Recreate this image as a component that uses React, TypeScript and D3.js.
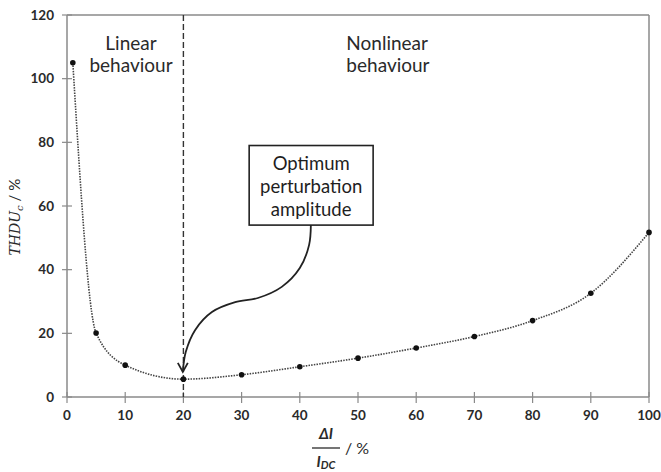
import React from "react";
import * as d3 from "d3";

// perturbation amplitude (% of I_DC) and THD of the voltage response (%)
const amplitudes = [1, 5, 10, 20, 30, 40, 50, 60, 70, 80, 90, 100];
const thdValues = [105, 20.1, 10, 5.6, 7, 9.5, 12.2, 15.4, 19, 24, 32.6, 51.7];
const xTicks = [0, 10, 20, 30, 40, 50, 60, 70, 80, 90, 100];
const yTicks = [0, 20, 40, 60, 80, 100, 120];
const optimumX = 20;
const boxLines = ["Optimum", "perturbation", "amplitude"];
// hand-drawn annotation arrow, in data units (box bottom -> optimum point)
const arrowX = [41.9, 41.6, 40, 36.9, 32.8, 28.9, 24.9, 22, 20.4, 19.9];
const arrowY = [54, 47.8, 40.5, 34.6, 31.1, 29.8, 26.7, 21, 14.1, 7.9];

const W = 661;
const H = 472;
const margin = { top: 15, right: 12, bottom: 75, left: 67 };

const font = "Lato, 'Open Sans', sans-serif";
const axisColor = "#8a8a8a";
const textColor = "#2a2a2a";

export default function App() {
  const x = d3.scaleLinear().domain([0, 100]).range([margin.left, W - margin.right]);
  const y = d3.scaleLinear().domain([0, 120]).range([H - margin.bottom, margin.top]);

  const pts = amplitudes.map((a, i) => [a, thdValues[i]] as [number, number]);
  const line = d3
    .line<[number, number]>()
    .x((d) => x(d[0]))
    .y((d) => y(d[1]))
    .curve(d3.curveMonotoneX);

  const boxX0 = x(31.3);
  const boxX1 = x(52.6);
  const boxY0 = y(79);
  const boxY1 = y(54);
  const boxCx = (boxX0 + boxX1) / 2;

  const arrowPts = arrowX.map((v, i) => [v, arrowY[i]] as [number, number]);
  const arrow = d3
    .line<[number, number]>()
    .x((d) => x(d[0]))
    .y((d) => y(d[1]))
    .curve(d3.curveCatmullRom)(arrowPts);
  const tip: [number, number] = [x(arrowX[arrowX.length - 1]), y(arrowY[arrowY.length - 1])];

  const bottom = y(0);
  const right = x(100);

  return (
    <svg width={W} height={H} style={{ position: "absolute", left: 0, top: 0, background: "#fff" }}>
      {/* frame */}
      <line x1={margin.left} x2={right} y1={y(120)} y2={y(120)} stroke={axisColor} strokeWidth={1.5} />
      <line x1={right} x2={right} y1={y(120)} y2={bottom} stroke={axisColor} strokeWidth={1.5} />
      <line x1={margin.left} x2={margin.left} y1={y(120)} y2={bottom} stroke={axisColor} strokeWidth={1.5} />
      <line x1={margin.left} x2={right} y1={bottom} y2={bottom} stroke={axisColor} strokeWidth={1.5} />

      {yTicks.map((t) => (
        <g key={"y" + t}>
          <line x1={margin.left - 5} x2={margin.left + 5} y1={y(t)} y2={y(t)} stroke={axisColor} strokeWidth={1.2} />
          <text x={margin.left - 13} y={y(t)} dy="0.35em" textAnchor="end" fontFamily={font} fontWeight={700} fontSize={13.5} fill={textColor}>
            {t}
          </text>
        </g>
      ))}
      {xTicks.map((t) => (
        <g key={"x" + t}>
          <line x1={x(t)} x2={x(t)} y1={bottom - 5} y2={bottom + 6} stroke={axisColor} strokeWidth={1.2} />
          <text x={x(t)} y={bottom + 23} textAnchor="middle" fontFamily={font} fontWeight={700} fontSize={13.5} fill={textColor}>
            {t}
          </text>
        </g>
      ))}

      {/* boundary between linear and nonlinear regions */}
      <line x1={x(optimumX)} x2={x(optimumX)} y1={y(120)} y2={bottom} stroke="#333" strokeWidth={1.4} strokeDasharray="6,3" />

      <text fontFamily={font} fontSize={19} fill={textColor} textAnchor="middle">
        <tspan x={x(11)} y={y(109)}>Linear</tspan>
        <tspan x={x(11)} y={y(102)}>behaviour</tspan>
      </text>
      <text fontFamily={font} fontSize={19} fill={textColor}>
        <tspan x={x(48)} y={y(109)}>Nonlinear</tspan>
        <tspan x={x(48)} y={y(102)}>behaviour</tspan>
      </text>

      {/* data */}
      <path d={line(pts) ?? ""} fill="none" stroke="#444" strokeWidth={1.6} strokeDasharray="1.5,1.2" />
      {pts.map((d, i) => (
        <circle key={i} cx={x(d[0])} cy={y(d[1])} r={2.8} fill="#111" />
      ))}

      {/* annotation */}
      <rect x={boxX0} y={boxY0} width={boxX1 - boxX0} height={boxY1 - boxY0} fill="#fff" stroke="#222" strokeWidth={1.6} />
      <text fontFamily={font} fontSize={18.5} fill="#1e1e1e" textAnchor="middle">
        {boxLines.map((l, i) => (
          <tspan key={l} x={boxCx} y={boxY0 + 24 + i * 23}>
            {l}
          </tspan>
        ))}
      </text>
      <path d={arrow ?? ""} fill="none" stroke="#222" strokeWidth={1.8} />
      <path
        d={`M${tip[0] - 5},${tip[1] - 9} L${tip[0]},${tip[1]} L${tip[0] + 5},${tip[1] - 9}`}
        fill="none"
        stroke="#222"
        strokeWidth={1.8}
      />

      {/* axis titles */}
      <text
        transform={`translate(20,${y(56.5)}) rotate(-90)`}
        textAnchor="middle"
        fontFamily="'DejaVu Serif', serif"
        fontStyle="italic"
        fontSize={14}
        fill={textColor}
      >
        THDU<tspan fontSize={10} dy={3}>c</tspan>
        <tspan dy={-3} fontFamily={font} fontStyle="normal" fontSize={15}> / %</tspan>
      </text>
      <g fontFamily={font} fontSize={15} fill={textColor} fontWeight={700}>
        <text x={326} y={439} textAnchor="middle" fontStyle="italic">ΔI</text>
        <line x1={312} x2={340} y1={448} y2={448} stroke={textColor} strokeWidth={1.3} />
        <text x={326} y={467} textAnchor="middle" fontStyle="italic">
          I<tspan fontSize={11} dy={2}>DC</tspan>
        </text>
        <text x={345} y={454} fontWeight={400} fontSize={16}>/ %</text>
      </g>
    </svg>
  );
}
